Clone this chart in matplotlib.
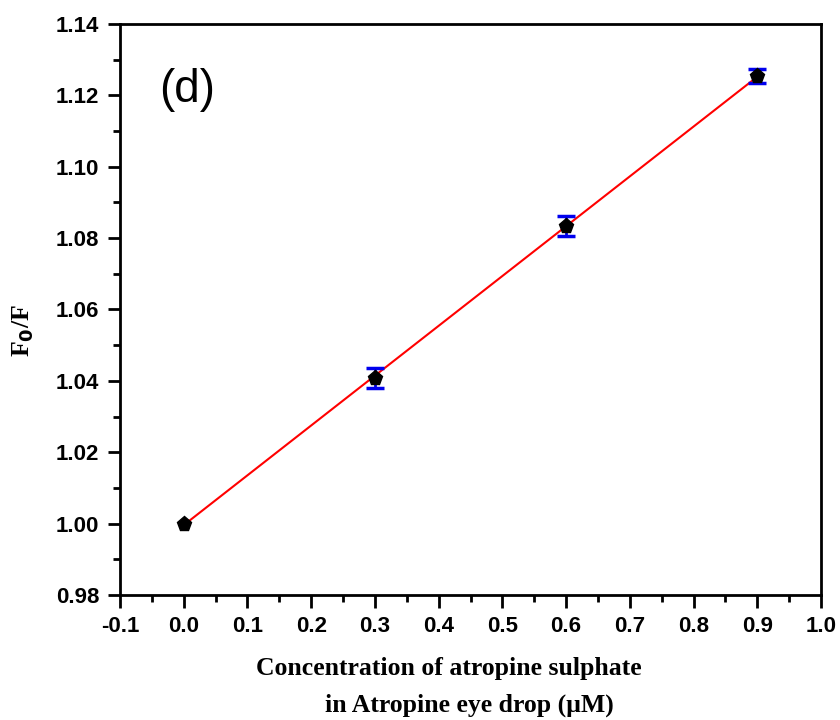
import numpy as np
import matplotlib
matplotlib.use("Agg")
import matplotlib.pyplot as plt
from matplotlib.ticker import MultipleLocator

# Stern-Volmer data for atropine sulphate in eye drop
conc = [0.0, 0.3, 0.6, 0.9]
f0_f = [1.0000, 1.0408, 1.0834, 1.1254]
err = [0.0, 0.0028, 0.0028, 0.0020]

x_ticks = [-0.1, 0.0, 0.1, 0.2, 0.3, 0.4, 0.5, 0.6, 0.7, 0.8, 0.9, 1.0]
y_ticks = [0.98, 1.00, 1.02, 1.04, 1.06, 1.08, 1.10, 1.12, 1.14]

W, H = 840, 720
fig = plt.figure(figsize=(W / 100, H / 100), dpi=100)
ax = fig.add_axes([120 / W, 1 - 595 / H, (821 - 120) / W, (595 - 24) / H])

# linear fit
slope, intercept = np.polyfit(conc, f0_f, 1)
xf = np.array([conc[0], conc[-1]])
ax.plot(xf, slope * xf + intercept, color="red", lw=1.5, zorder=2)

# error bars only where a spread was measured
xe = [c for c, e in zip(conc, err) if e > 0]
ye = [v for v, e in zip(f0_f, err) if e > 0]
ee = [e for e in err if e > 0]
ax.errorbar(xe, ye, yerr=ee, fmt="none", ecolor="#0000ee",
            elinewidth=2, capsize=6.5, capthick=2.5, zorder=3)
ax.plot(conc, f0_f, linestyle="none", marker="p", markersize=11,
        color="black", zorder=4)

ax.set_xlim(-0.1, 1.0)
ax.set_ylim(0.98, 1.14)
ax.set_xticks(x_ticks)
ax.set_yticks(y_ticks)
ax.set_xticklabels([f"{v:.1f}" for v in x_ticks])
ax.set_yticklabels([f"{v:.2f}" for v in y_ticks])
ax.xaxis.set_minor_locator(MultipleLocator(0.05))
ax.yaxis.set_minor_locator(MultipleLocator(0.01))

for s in ax.spines.values():
    s.set_linewidth(2)
ax.tick_params(which="major", direction="out", length=9, width=2,
               top=False, right=False, pad=6)
ax.tick_params(which="minor", direction="out", length=5, width=2,
               top=False, right=False)
for lab in ax.get_xticklabels() + ax.get_yticklabels():
    lab.set_fontfamily("Liberation Sans")
    lab.set_fontweight("bold")
    lab.set_fontsize(16)

serif = {"family": "Liberation Serif", "weight": "bold", "size": 18.5}
fig.text(449 / W, 1 - 675 / H, "Concentration of atropine sulphate",
         ha="center", va="baseline", fontdict=serif)
fig.text(469 / W, 1 - 712 / H, "in Atropine eye drop (\u03bcM)",
         ha="center", va="baseline", fontdict=serif)
fig.text(23 / W, 1 - 331 / H, r"F$_\mathbf{0}$/F", rotation=90,
         ha="center", va="center", fontdict=serif)

ax.text(0.006, 1.1215, "(d)", fontfamily="Liberation Sans", fontsize=33,
        ha="center", va="center")

fig.savefig("out.png", dpi=100, facecolor="white")
